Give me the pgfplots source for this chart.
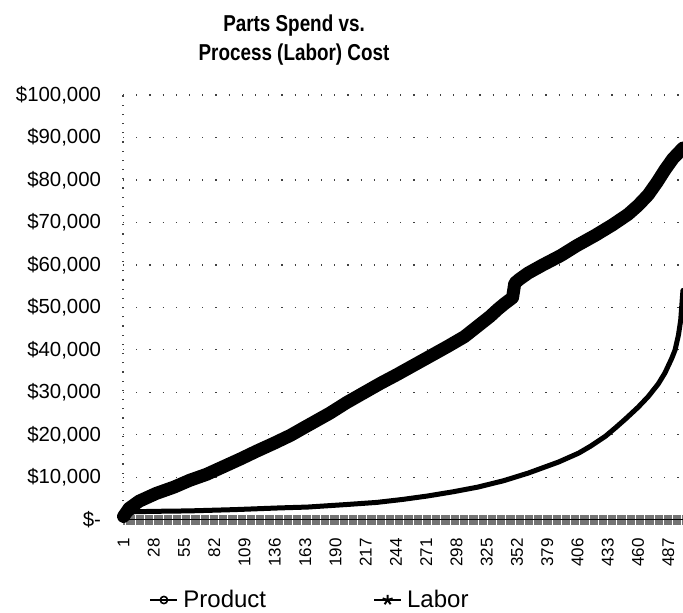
\documentclass[border=0pt]{standalone}
\usepackage{fontspec}
\setmainfont{Liberation Sans}
\newfontfamily\titlefont[FakeStretch=0.82]{Liberation Sans}
\usepackage{pgfplots}
\pgfplotsset{compat=1.18}
\begin{document}
\begin{tikzpicture}
\path[use as bounding box] (0,0) rectangle (341.5pt,306pt);
\node[anchor=base, inner sep=0pt, font=\titlefont\bfseries\fontsize{11.5}{13}\selectfont] at (147pt,290.2pt) {Parts Spend vs.};
\node[anchor=base, inner sep=0pt, font=\titlefont\bfseries\fontsize{11.5}{13}\selectfont] at (147pt,276pt) {Process (Labor) Cost};
\begin{axis}[
  scale only axis, width=280.25pt, height=212.4pt,
  at={(61.5pt,46.1pt)}, anchor=south west,
  xmin=0.5, xmax=500.5, ymin=0, ymax=100000,
  axis lines*=left,
  clip=false,
  x axis line style={black, line width=0.4pt},
  y axis line style={black!75, line width=0.6pt, dash pattern=on 0.6pt off 4pt},
  ytick={0,10000,...,100000},
  yticklabels={{\$-},{\$10,000},{\$20,000},{\$30,000},{\$40,000},{\$50,000},{\$60,000},{\$70,000},{\$80,000},{\$90,000},{\$100,000}},
  scaled y ticks=false,
  yticklabel style={inner sep=0pt, anchor=east, xshift=-8.3pt, font=\fontsize{10.2}{12}\selectfont},
  ytick style={draw=none},
  ymajorgrids,
  y grid style={black!75, line width=0.6pt, dash pattern=on 0.6pt off 6pt},
  xtick={1,28,...,487},
  xticklabels={1,28,55,82,109,136,163,190,217,244,271,298,325,352,379,406,433,460,487},
  xticklabel style={rotate=90, anchor=east, inner sep=0pt, font=\fontsize{8.5}{10}\selectfont},
  xticklabel shift=6.6pt,
  minor xtick={1,2,...,500},
  tick align=center,
  major tick length=5pt, minor tick length=5pt,
  x tick style={black!55, line width=0.3pt},
  legend style={at={(0.0357,-0.1888)}, anchor=west, draw=none, fill=none,
    legend columns=2, font=\fontsize{12}{14}\selectfont,
    nodes={inner sep=0pt},
    /tikz/every odd column/.append style={column sep=2.5pt},
    /tikz/every even column/.append style={column sep=53.5pt}},
  legend cell align=left,
  legend image code/.code={\draw[mark repeat=2,mark phase=2,#1] plot coordinates {(0pt,0pt) (6.75pt,0pt) (13.5pt,0pt)};},
]
\addlegendimage{black, line width=1pt, mark=o, mark size=1.8pt, mark options={line width=0.8pt}}
\addlegendentry{Product}
\addlegendimage{black, line width=1pt, mark=star, mark size=2.6pt, mark options={line width=1pt}}
\addlegendentry{Labor}
% Product (upper curve)
\addplot[black, line width=6.5pt, line join=round, line cap=round, forget plot] coordinates {
(1,800) (6,2700) (15,4400) (30,6200) (46,7700) (60,9300) (75,10700) (90,12500)
(105,14300) (120,16200) (135,18000) (150,19900) (162,21700) (185,25100) (200,27600)
(216,30000) (230,32100) (245,34200) (260,36400) (275,38600) (290,40800) (305,43100)
(317,45600) (328,47900) (335,49600) (341,50900) (348,52300) (350,55700) (354,56600)
(362,58100) (375,60000) (391,62200) (405,64500) (422,67000) (437,69400) (451,71900)
(460,74000) (469,76500) (477,79500) (484,82400) (491,85000) (500,87500)
};
% Labor (lower curve)
\addplot[black, line width=2.5pt, line join=round, line cap=round, forget plot] coordinates {
(1,300) (5,1200) (10,1900) (30,2000) (60,2100) (100,2400) (140,2800) (165,3000)
(200,3600) (227,4100) (250,4800) (272,5600) (295,6600) (317,7700) (340,9200)
(362,11000) (389,13600) (407,15700) (418,17400) (431,19700) (440,21700) (449,23800) (460,26500)
(469,29000) (478,32000) (484,34600) (490,38000) (493,40000) (496,43500) (498,47000) (500,54000)
};
\end{axis}
\end{tikzpicture}
\end{document}
